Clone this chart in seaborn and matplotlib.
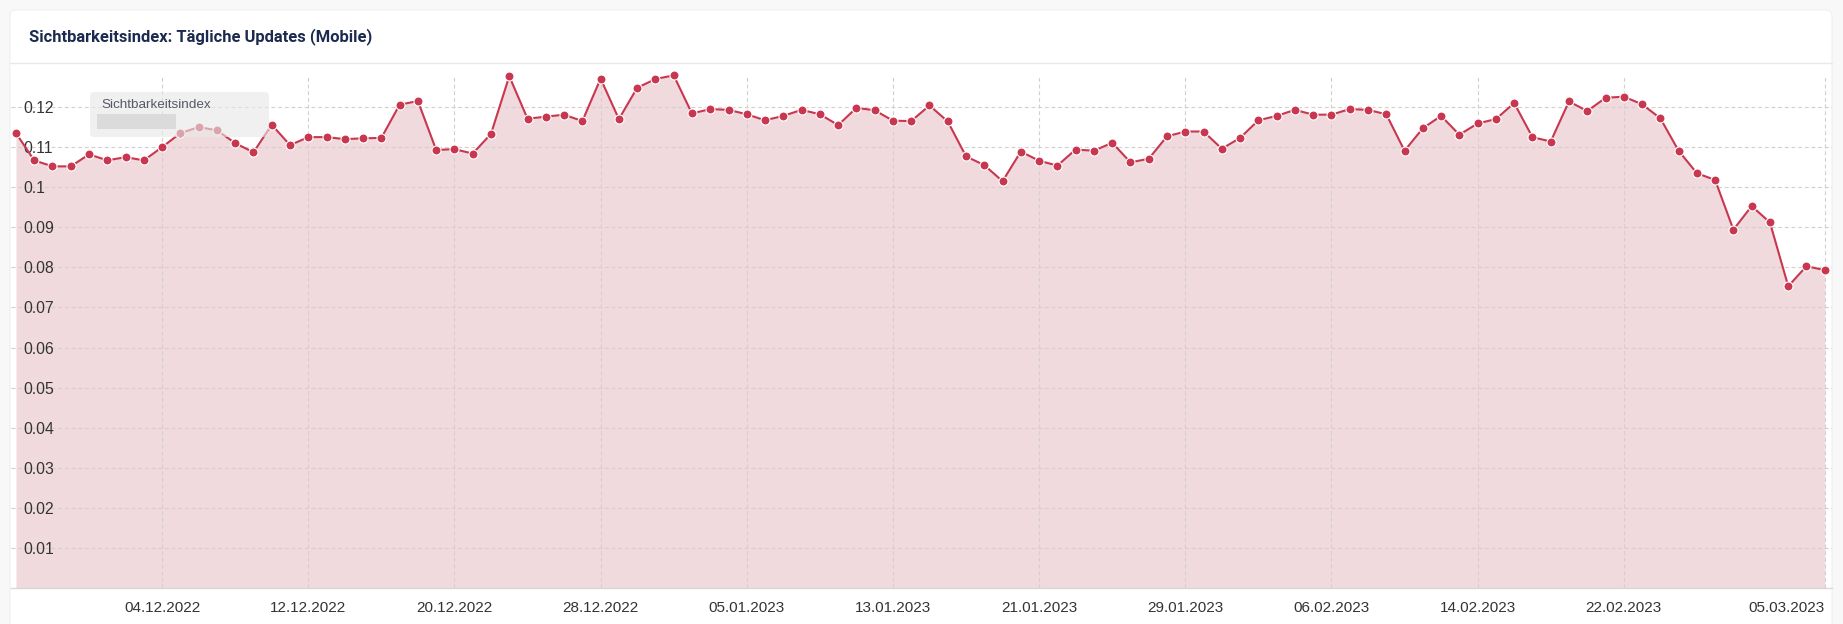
import numpy as np
import pandas as pd
import matplotlib
matplotlib.use("Agg")
import matplotlib.pyplot as plt
from matplotlib.patches import FancyBboxPatch
from matplotlib.transforms import IdentityTransform
import seaborn as sns

# daily Sichtbarkeitsindex (mobile), 26.11.2022 - 05.03.2023
start_date = "2022-11-26"
end_date = "2023-03-05"
visibility = [
    0.1135, 0.1067, 0.1052, 0.1052, 0.1082, 0.1067, 0.1075, 0.1067, 0.1100, 0.1135,
    0.1150, 0.1142, 0.1110, 0.1087, 0.1156, 0.1105, 0.1125, 0.1125, 0.1120, 0.1122,
    0.1123, 0.1206, 0.1215, 0.1093, 0.1095, 0.1084, 0.1133, 0.1277, 0.1171, 0.1176,
    0.1181, 0.1165, 0.1271, 0.1170, 0.1248, 0.1270, 0.1279, 0.1184, 0.1195, 0.1193,
    0.1182, 0.1167, 0.1178, 0.1193, 0.1182, 0.1155, 0.1198, 0.1192, 0.1166, 0.1165,
    0.1204, 0.1164, 0.1077, 0.1055, 0.1015, 0.1089, 0.1066, 0.1054, 0.1094, 0.1091,
    0.1111, 0.1062, 0.1071, 0.1127, 0.1139, 0.1139, 0.1096, 0.1123, 0.1167, 0.1178,
    0.1193, 0.1181, 0.1181, 0.1195, 0.1193, 0.1182, 0.1091, 0.1147, 0.1178, 0.1131,
    0.1159, 0.1170, 0.1210, 0.1125, 0.1114, 0.1214, 0.1190, 0.1223, 0.1226, 0.1207,
    0.1172, 0.1091, 0.1035, 0.1018, 0.0894, 0.0953, 0.0912, 0.0753, 0.0803, 0.0793,
]

x_tick_labels = ["04.12.2022", "12.12.2022", "20.12.2022", "28.12.2022", "05.01.2023",
                 "13.01.2023", "21.01.2023", "29.01.2023", "06.02.2023", "14.02.2023",
                 "22.02.2023", "05.03.2023"]
y_ticks = [0.01, 0.02, 0.03, 0.04, 0.05, 0.06, 0.07, 0.08, 0.09, 0.10, 0.11, 0.12]
y_tick_labels = ["0.01", "0.02", "0.03", "0.04", "0.05", "0.06", "0.07", "0.08",
                 "0.09", "0.1", "0.11", "0.12"]

dates = pd.date_range(start_date, end_date, freq="D")
df = pd.DataFrame({"date": dates, "value": visibility})
tick_dates = pd.to_datetime(x_tick_labels, format="%d.%m.%Y")

LINE = "#c8374f"
FILL = "#f0dadd"
GRID = "#d6cdd0"
TEXT = "#333333"

sns.set_theme(style="white")
plt.rcParams["font.family"] = ["Liberation Sans", "DejaVu Sans"]

W, H = 1843, 624
fig = plt.figure(figsize=(W / 100, H / 100), dpi=100)
fig.patch.set_facecolor("#f8f8f8")

# white card + header
card = FancyBboxPatch((10, -20), 1822, 634, boxstyle="round,pad=0,rounding_size=6",
                      transform=IdentityTransform(), facecolor="white", edgecolor="#efefef",
                      linewidth=0.8, zorder=0)
fig.add_artist(card)
fig.add_artist(plt.Line2D([10 / W, 1832 / W], [1 - 63 / H, 1 - 63 / H],
                          transform=fig.transFigure, color="#e8e8e8", linewidth=1))
fig.text(29 / W, 1 - 37 / H, "Sichtbarkeitsindex: Tägliche Updates (Mobile)",
         fontsize=11.9, fontweight="bold", color="#1b2a4e", va="center", ha="left",
         family=["Roboto", "DejaVu Sans"])

ax = fig.add_axes([11 / W, 36 / H, (1832 - 11) / W, (588 - 75) / H])
ax.set_facecolor("none")

ax.fill_between(df["date"], df["value"], 0, color=FILL, linewidth=0, zorder=1)
sns.lineplot(data=df, x="date", y="value", ax=ax, color=LINE, linewidth=1.5,
             marker="o", markersize=6.5, markeredgecolor="white", markeredgewidth=0.8,
             zorder=3)
for ln in ax.lines:
    ln.set_clip_on(False)

ax.set_ylim(0, 0.128)
ax.set_xlim(dates[0] - pd.Timedelta(hours=6.5), dates[-1] + pd.Timedelta(hours=9.5))

ax.set_xticks(tick_dates)
ax.set_xticklabels(x_tick_labels)
ax.set_yticks(y_ticks)
ax.set_yticklabels(y_tick_labels)
ax.tick_params(axis="x", length=0, pad=9, labelsize=11, labelcolor=TEXT)
ax.tick_params(axis="y", length=0, pad=-8.6, labelsize=11.3, labelcolor=TEXT)
for lbl in ax.get_yticklabels():
    lbl.set_horizontalalignment("left")
ax.get_xticklabels()[-1].set_horizontalalignment("right")

ax.set_axisbelow("line")
ax.grid(True, axis="both", color=GRID, linestyle=(0, (3.5, 2.5)), linewidth=0.8)
ax.set_xlabel("")
ax.set_ylabel("")
for side in ["top", "left", "right"]:
    ax.spines[side].set_visible(False)
ax.spines["bottom"].set_color("#d8d8d8")
ax.spines["bottom"].set_linewidth(1)

# hover tooltip (value blurred in the original)
tip = FancyBboxPatch((90, H - 137), 179, 45, boxstyle="round,pad=0,rounding_size=4",
                     transform=IdentityTransform(), facecolor="#e8e8e8", edgecolor="none",
                     alpha=0.62, zorder=10)
fig.add_artist(tip)
blur = FancyBboxPatch((97, H - 129), 79, 15, boxstyle="square,pad=0",
                      transform=IdentityTransform(), facecolor="#d8d8d8", edgecolor="none",
                      alpha=0.85, zorder=11)
fig.add_artist(blur)
fig.text(101 / W, 1 - 105 / H, "Sichtbarkeitsindex", fontsize=9.7, color="#555a66",
         va="center", ha="left", zorder=12)

fig.savefig("out.png", dpi=100, facecolor=fig.get_facecolor())
